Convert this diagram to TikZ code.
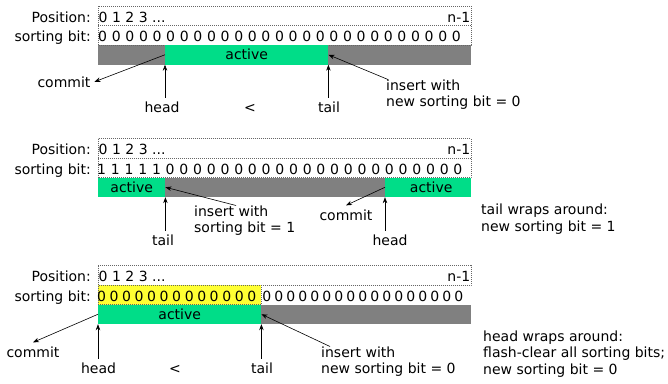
\documentclass[tikz,border=0pt]{standalone}
\usepackage{fontspec}
\setmainfont{DejaVu Sans}
\usetikzlibrary{arrows.meta}
\definecolor{actgreen}{RGB}{0,221,136}
\definecolor{bargray}{RGB}{128,128,128}
\definecolor{clryellow}{RGB}{255,255,51}

\begin{document}
\begin{tikzpicture}[x=1pt,y=-1pt,font=\fontsize{14}{16.5}\selectfont,
  every node/.style={inner sep=0pt},
  rowbox/.style={draw=black!60,dash pattern=on 0.8pt off 1.2pt,line width=0.5pt},
  bar/.style={fill=bargray,minimum height=19.5pt,minimum width=373pt,anchor=west},
  act/.style={fill=actgreen,minimum height=19.5pt,anchor=west},
  bit/.style={anchor=base},
  lbl/.style={anchor=base,outer sep=4pt},
  note/.style={anchor=north west,align=left},
  ptr/.style={-{Stealth[length=6pt,width=4.5pt]},line width=0.6pt}]
\useasboundingbox (0,0) rectangle (668,383);
% queue before wrap-around
\node[bar] (bar1) at (98,54.75) {};
\draw[rowbox] (98,6) rectangle (471,45) (98,25.5) -- (471,25.5);
\node[anchor=base east] (poslab1) at (91,22) {Position:};
\node[anchor=base east] (bitlab1) at (91,41.5) {sorting bit:};
\node[anchor=base west] (idx1) at (98.5,22) {0 1 2 3 ...};
\node[anchor=base east] (last1) at (470.5,22) {n-1};
\foreach \i in {0,...,26}
  \node[bit] (b1-\i) at (102.7+13.6*\i,41.5) {0};
\node[act,minimum width=163pt] (act1) at (165,54.75) {active};
\node[lbl] (commit1) at (64,87) {commit};
\node[lbl] (head1) at (162,112.5) {head};
\node[lbl] (lt1) at (250,112.5) {<};
\node[lbl] (tail1) at (329,112.5) {tail};
\node[note] (ins1) at (386,79.5) {insert with\\new sorting bit = 0};
\draw[ptr] (act1.west) -- (commit1.east);
\draw[ptr] (head1.north -| act1.south west) -- (act1.south west);
\draw[ptr] (tail1.north -| act1.south east) -- (act1.south east);
\draw[ptr] ([xshift=2pt]ins1.north west) -- (act1.east);
% tail wrapped
\node[bar] (bar2) at (98,187.25) {};
\draw[rowbox] (98,138.5) rectangle (471,177.5) (98,158) -- (471,158);
\node[anchor=base east] (poslab2) at (91,154.5) {Position:};
\node[anchor=base east] (bitlab2) at (91,174) {sorting bit:};
\node[anchor=base west] (idx2) at (98.5,154.5) {0 1 2 3 ...};
\node[anchor=base east] (last2) at (470.5,154.5) {n-1};
\foreach \i in {0,...,26}
  \node[bit] (b2-\i) at (101.7+13.7*\i,174) {\ifnum\i<5 1\else 0\fi};
\node[act,minimum width=67pt] (act2a) at (98,187.25) {active};
\node[act,minimum width=86pt] (act2b) at (385,187.25) {\hspace{6pt}active};
\node[note] (ins2) at (194,205.5) {insert with\\sorting bit = 1};
\node[lbl] (commit2) at (346,220) {commit};
\node[lbl] (tail2) at (163,245.5) {tail};
\node[lbl] (head2) at (390,245.5) {head};
\node[note] (wrap2) at (481,204) {tail wraps around:\\new sorting bit = 1};
\draw[ptr] ([xshift=42pt]ins2.north west) -- (act2a.east);
\draw[ptr] (act2b.west) -- (commit2.north);
\draw[ptr] (tail2.north -| act2a.south east) -- (act2a.south east);
\draw[ptr] (head2.north -| act2b.south west) -- (act2b.south west);
% head wrapped, bits cleared
\node[bar] (bar3) at (98,314.25) {};
\draw[rowbox] (98,265.5) rectangle (471,285);
\node[rowbox,fill=clryellow,minimum width=163pt,minimum height=19.5pt,anchor=west] (clr3) at (98,294.75) {};
\node[anchor=base east] (poslab3) at (91,281.5) {Position:};
\node[anchor=base east] (bitlab3) at (91,301) {sorting bit:};
\node[anchor=base west] (idx3) at (98.5,281.5) {0 1 2 3 ...};
\node[anchor=base east] (last3) at (470.5,281.5) {n-1};
\foreach \i in {0,...,12}
  \node[bit] (b3-\i) at (101.7+12.5*\i,301) {0};
\foreach \i in {13,...,29}
  \node[bit] (b3-\i) at (110.7+12*\i,301) {0};
\node[act,minimum width=163pt] (act3) at (98,314.25) {active};
\node[lbl] (commit3) at (33,357) {commit};
\node[lbl] (head3) at (98.5,373.5) {head};
\node[lbl] (lt3) at (175,373.5) {<};
\node[lbl] (tail3) at (262,373.5) {tail};
\node[note] (ins3) at (321,346.5) {insert with\\new sorting bit = 0};
\node[note] (wrap3) at (483,330.5) {head wraps around:\\flash-clear all sorting bits;\\new sorting bit = 0};
\draw[ptr] (act3.west) -- (commit3.north);
\draw[ptr] (head3.north -| act3.south west) -- (act3.south west);
\draw[ptr] (tail3.north -| act3.south east) -- (act3.south east);
\draw[ptr] ([xshift=9pt]ins3.north west) -- (act3.east);
\end{tikzpicture}
\end{document}
